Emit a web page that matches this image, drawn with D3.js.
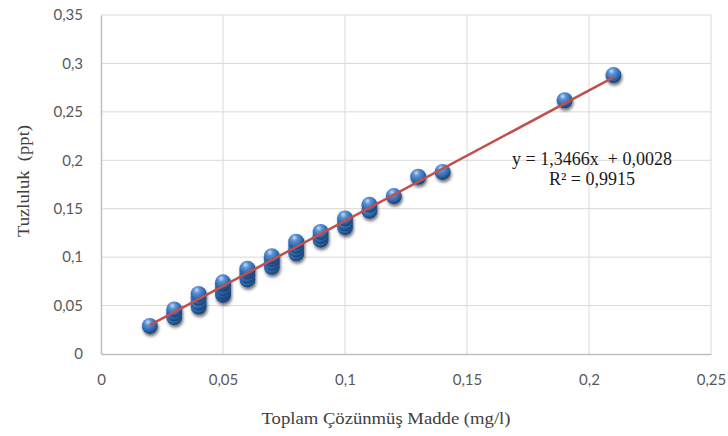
<!DOCTYPE html>
<html>
<head>
<meta charset="utf-8">
<script src="https://cdn.jsdelivr.net/npm/d3@7"></script>
<style>
  body { margin: 0; background: #fff; }
  svg { display: block; }
</style>
</head>
<body>
<svg id="chart" width="728" height="436"></svg>
<script>
// measured values (x = TÇM, y = tuzluluk)
const tdsValues = [0.02,
  0.03, 0.03, 0.03,
  0.04, 0.04, 0.04, 0.04,
  0.05, 0.05, 0.05, 0.05, 0.05, 0.05,
  0.06, 0.06, 0.06, 0.06,
  0.07, 0.07, 0.07, 0.07,
  0.08, 0.08, 0.08, 0.08,
  0.09, 0.09, 0.09,
  0.10, 0.10, 0.10,
  0.11, 0.11,
  0.12, 0.13, 0.14, 0.19, 0.21]
const salinityValues = [0.029,
  0.038, 0.042, 0.046,
  0.049, 0.053, 0.058, 0.062,
  0.061, 0.063, 0.065, 0.068, 0.072, 0.074,
  0.077, 0.081, 0.085, 0.088,
  0.090, 0.094, 0.098, 0.101,
  0.104, 0.108, 0.112, 0.116,
  0.118, 0.122, 0.126,
  0.131, 0.135, 0.140,
  0.148, 0.154,
  0.163, 0.183, 0.188, 0.262, 0.288]
const xTicks = [0, 0.05, 0.1, 0.15, 0.2, 0.25]
const yTicks = [0, 0.05, 0.1, 0.15, 0.2, 0.25, 0.3, 0.35]
const slope = 1.3466, intercept = 0.0028
const eqLines = ["y = 1,3466x\u00a0 + 0,0028", "R² = 0,9915"]

const svg = d3.select("#chart")
const margin = {left: 101, right: 17, top: 15, bottom: 82}
const W = 728, H = 436

const x = d3.scaleLinear().domain([0, 0.25]).range([margin.left, W - margin.right])
const y = d3.scaleLinear().domain([0, 0.35]).range([H - margin.bottom, margin.top])
const fmt = d => d3.format("")(d).replace(".", ",")

// sphere gradient + shadow
const defs = svg.append("defs")
const grad = defs.append("radialGradient").attr("id", "ball")
  .attr("cx", "40%").attr("cy", "32%").attr("r", "65%").attr("fx", "38%").attr("fy", "25%")
grad.append("stop").attr("offset", "0%").attr("stop-color", "#c9dcf4")
grad.append("stop").attr("offset", "30%").attr("stop-color", "#5a93d6")
grad.append("stop").attr("offset", "75%").attr("stop-color", "#2d67ad")
grad.append("stop").attr("offset", "100%").attr("stop-color", "#1c4478")
const shadow = defs.append("filter").attr("id", "shadow")
  .attr("x", "-50%").attr("y", "-50%").attr("width", "200%").attr("height", "200%")
shadow.append("feDropShadow").attr("dx", 1).attr("dy", 2.5).attr("stdDeviation", 1.6)
  .attr("flood-color", "#000").attr("flood-opacity", 0.55)

// gridlines
svg.append("g").selectAll("line").data(yTicks.slice(1)).join("line")
  .attr("x1", x(0)).attr("x2", x(0.25))
  .attr("y1", d => y(d)).attr("y2", d => y(d))
  .attr("stroke", "#d9d9d9").attr("stroke-width", 1)
svg.append("g").selectAll("line").data(xTicks.slice(1)).join("line")
  .attr("x1", d => x(d)).attr("x2", d => x(d))
  .attr("y1", y(0)).attr("y2", y(0.35))
  .attr("stroke", "#d9d9d9").attr("stroke-width", 1)

// axes
const xAxis = svg.append("g").attr("transform", `translate(0,${y(0)})`)
  .call(d3.axisBottom(x).tickValues(xTicks).tickSize(0).tickPadding(20).tickFormat(fmt))
const yAxis = svg.append("g").attr("transform", `translate(${x(0)},0)`)
  .call(d3.axisLeft(y).tickValues(yTicks).tickSize(0).tickPadding(18).tickFormat(fmt))
for (const ax of [xAxis, yAxis]) {
  ax.select(".domain").attr("stroke", "#bfbfbf").attr("stroke-width", 1.5)
  ax.selectAll("text").attr("fill", "#595959")
    .style("font-family", "Lato, 'Open Sans', sans-serif").style("font-size", "15px")
}

// points
const pts = tdsValues.map((d, i) => ({x: d, y: salinityValues[i]}))
svg.append("g").attr("filter", "url(#shadow)")
  .selectAll("circle").data(pts).join("circle")
  .attr("cx", d => x(d.x)).attr("cy", d => y(d.y)).attr("r", 8)
  .attr("fill", "url(#ball)")

// trend line over the spheres
svg.append("line")
  .attr("x1", x(0.02)).attr("y1", y(slope * 0.02 + intercept))
  .attr("x2", x(0.21)).attr("y2", y(slope * 0.21 + intercept))
  .attr("stroke", "#c0504d").attr("stroke-width", 2.5)

// equation
svg.append("g").selectAll("text").data(eqLines).join("text")
  .attr("x", 592).attr("y", (d, i) => 165 + i * 20)
  .attr("text-anchor", "middle")
  .style("font-family", "'Liberation Serif', serif").style("font-size", "18px")
  .attr("fill", "#1a1a1a")
  .text(d => d)

// axis titles
svg.append("text").attr("x", 386).attr("y", 424).attr("text-anchor", "middle")
  .attr("textLength", 249).attr("lengthAdjust", "spacingAndGlyphs")
  .style("font-family", "'Liberation Serif', serif").style("font-size", "17px")
  .attr("fill", "#404040").text("Toplam Çözünmüş Madde (mg/l)")
svg.append("text").attr("transform", "translate(29,181) rotate(-90)").attr("text-anchor", "middle")
  .attr("textLength", 112).attr("lengthAdjust", "spacingAndGlyphs")
  .style("font-family", "'Liberation Serif', serif").style("font-size", "17px")
  .attr("fill", "#404040").text("Tuzluluk\u00a0 (ppt)")
</script>
</body>
</html>
